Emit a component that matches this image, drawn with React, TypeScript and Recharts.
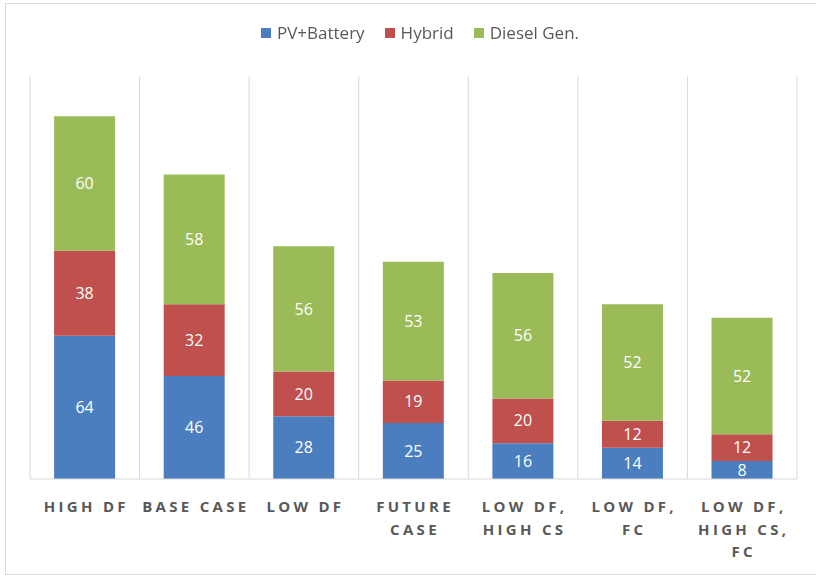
import { BarChart, Bar, XAxis, YAxis, CartesianGrid, Legend, LabelList } from "recharts";

const categories = ["High DF", "Base Case", "Low DF", "Future Case", "Low DF, High CS", "Low DF, FC", "Low DF, High CS, FC"];
const tickLines = [
  ["HIGH DF"],
  ["BASE CASE"],
  ["LOW DF"],
  ["FUTURE", "CASE"],
  ["LOW DF,", "HIGH CS"],
  ["LOW DF,", "FC"],
  ["LOW DF,", "HIGH CS,", "FC"],
];
const pvBattery = [64, 46, 28, 25, 16, 14, 8];
const hybrid = [38, 32, 20, 19, 20, 12, 12];
const dieselGen = [60, 58, 56, 53, 56, 52, 52];

const data = categories.map((name, i) => ({
  name,
  pv: pvBattery[i],
  hybrid: hybrid[i],
  diesel: dieselGen[i],
}));

const series = [
  { key: "pv", name: "PV+Battery", color: "#4a7ebf" },
  { key: "hybrid", name: "Hybrid", color: "#c0504d" },
  { key: "diesel", name: "Diesel Gen.", color: "#9bbb59" },
];

const FONT = "'Open Sans', 'Noto Sans', sans-serif";

function CategoryTick({ x, y, payload }: any) {
  const lines = tickLines[payload.index] || [payload.value];
  return (
    <text
      x={x}
      y={y + 25}
      textAnchor="middle"
      fill="#595959"
      fontFamily={FONT}
      fontWeight={700}
      fontSize={15}
      letterSpacing={3.3}
    >
      {lines.map((l, i) => (
        <tspan key={i} x={x + 1.5} dy={i === 0 ? 0 : 22.5}>
          {l}
        </tspan>
      ))}
    </text>
  );
}

function LegendContent() {
  return (
    <div style={{ display: "flex", justifyContent: "center", gap: 20, fontFamily: FONT, fontSize: 17, color: "#595959" }}>
      {series.map((s) => (
        <div key={s.key} style={{ display: "flex", alignItems: "center", gap: 6 }}>
          <span style={{ width: 10, height: 10, background: s.color, display: "inline-block" }} />
          <span>{s.name}</span>
        </div>
      ))}
    </div>
  );
}

export default function App() {
  return (
    <div style={{ position: "fixed", left: 0, top: 0, width: 816, height: 576, background: "#fff" }}>
      <div
        style={{
          position: "absolute",
          left: 5,
          top: 3,
          width: 830,
          height: 570,
          borderLeft: "1px solid #d9d9d9",
          borderTop: "1px solid #d9d9d9",
          borderBottom: "1px solid #d9d9d9",
        }}
      />
      <div style={{ position: "absolute", left: 0, top: 0 }}>
        <BarChart
          width={816}
          height={576}
          data={data}
          margin={{ top: 76, right: 19, left: 30, bottom: 0 }}
          barCategoryGap="22%"
        >
          <CartesianGrid
            horizontal={false}
            stroke="#d9d9d9"
            verticalCoordinatesGenerator={({ offset }: any) =>
              categories.map((_, i) => offset.left + (i * offset.width) / categories.length).concat(offset.left + offset.width)
            }
          />
          <XAxis
            dataKey="name"
            height={97}
            interval={0}
            tickLine={false}
            axisLine={{ stroke: "#d9d9d9" }}
            tick={<CategoryTick />}
          />
          <YAxis hide width={0} domain={[0, 180]} />
          <Legend
            layout="horizontal"
            verticalAlign="middle"
            align="center"
            wrapperStyle={{ top: 21, left: 12, width: 816 }}
            content={<LegendContent />}
          />
          {series.map((s) => (
            <Bar key={s.key} dataKey={s.key} name={s.name} stackId="a" fill={s.color} isAnimationActive={false}>
              <LabelList dataKey={s.key} position="center" fill="#ffffff" fontSize={16} fontFamily={FONT} />
            </Bar>
          ))}
        </BarChart>
      </div>
    </div>
  );
}
